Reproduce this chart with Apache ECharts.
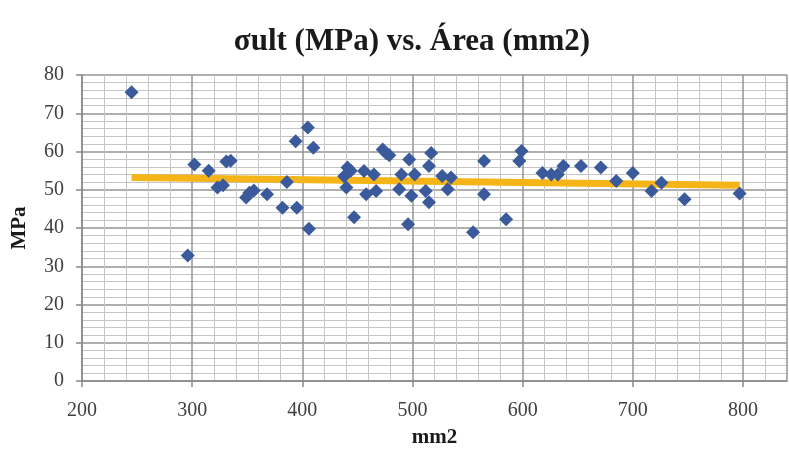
<!DOCTYPE html>
<html>
<head>
<meta charset="utf-8">
<script src="https://cdn.jsdelivr.net/npm/echarts@6/dist/echarts.min.js"></script>
<style>html,body{margin:0;padding:0;background:#fff}#c{width:789px;height:453px}</style>
</head>
<body>
<div id="c"></div>
<script>
const titleText = 'σult (MPa) vs. Área (mm2)';
const xName = 'mm2';
const yName = 'MPa';
// area (mm2)
const areaValues = [245,296,302,315,323,328,331,335,349,352,356,368,382,386,394,395,405,406,410,
  438,440,441,444,447,456,458,465,467,473,476,479,488,490,496,497,499,502,512,515,515,517,527,532,535,
  555,565,565,585,597,599,618,626,632,637,653,671,685,700,717,726,747,797];
// sigma ult (MPa)
const stressValues = [75.5,32.8,56.6,55.0,50.6,51.2,57.4,57.6,48.0,49.2,49.8,48.8,45.3,52.0,62.7,45.3,66.3,39.8,61.0,
  53.5,50.6,55.8,55.0,42.8,54.9,48.8,54.0,49.7,60.5,59.6,59.0,50.1,54.0,41.0,57.9,48.4,54.0,49.7,46.7,56.2,59.6,53.6,50.1,53.2,
  38.9,57.5,48.8,42.3,57.5,60.1,54.4,54.0,54.0,56.2,56.2,55.8,52.3,54.4,49.7,51.8,47.5,49.0];
// linear trend line endpoints
const trendX = [245, 797];
const trendY = [53.2, 51.2];

const points = areaValues.map((x, i) => [x, stressValues[i]]);
const trend = trendX.map((x, i) => [x, trendY[i]]);

const serif = '"Liberation Serif","Times New Roman",serif';
const chart = echarts.init(document.getElementById('c'), null, {renderer: 'canvas'});
chart.setOption({
  animation: false,
  backgroundColor: '#ffffff',
  title: {
    text: titleText,
    left: 407, top: 21, textAlign: 'center',
    textStyle: {fontFamily: serif, fontWeight: 'bold', fontSize: 31, color: '#1a1a1a'}
  },
  grid: {left: 82, right: 2, top: 75, bottom: 70, containLabel: false},
  xAxis: {
    type: 'value', min: 200, max: 840, interval: 100,
    name: xName, nameLocation: 'middle', nameGap: 46,
    nameTextStyle: {fontFamily: serif, fontWeight: 'bold', fontSize: 21, color: '#1a1a1a'},
    axisLine: {show: true, lineStyle: {color: '#888', width: 1.5}},
    axisTick: {show: true, inside: false, length: 6, lineStyle: {color: '#888', width: 1.5}},
    axisLabel: {fontFamily: serif, fontSize: 20, color: '#404040', margin: 20, showMaxLabel: false,
      formatter: v => (v % 100 === 0 ? String(v) : '')},
    splitLine: {show: true, lineStyle: {color: '#949494', width: 1.5}},
    minorTick: {show: false, splitNumber: 5},
    minorSplitLine: {show: true, lineStyle: {color: '#c6c6c6', width: 1}}
  },
  yAxis: {
    type: 'value', min: 0, max: 80, interval: 10,
    name: yName, nameLocation: 'middle', nameGap: 52, nameRotate: 90,
    nameTextStyle: {fontFamily: serif, fontWeight: 'bold', fontSize: 21, color: '#1a1a1a'},
    axisLine: {show: true, lineStyle: {color: '#888', width: 1.5}},
    axisTick: {show: true, inside: false, length: 6, lineStyle: {color: '#888', width: 1.5}},
    axisLabel: {fontFamily: serif, fontSize: 20, color: '#404040', margin: 18},
    splitLine: {show: true, lineStyle: {color: '#949494', width: 1.5}},
    minorTick: {show: false, splitNumber: 5},
    minorSplitLine: {show: true, lineStyle: {color: '#c6c6c6', width: 1}}
  },
  series: [
    {
      type: 'line', data: trend, showSymbol: false, symbol: 'none',
      lineStyle: {color: '#F5B417', width: 7}, z: 2, silent: true
    },
    {
      type: 'scatter', data: points, symbol: 'diamond', symbolSize: 14,
      itemStyle: {color: '#3A5A9C', opacity: 1}, z: 3
    }
  ]
});
</script>
</body>
</html>
